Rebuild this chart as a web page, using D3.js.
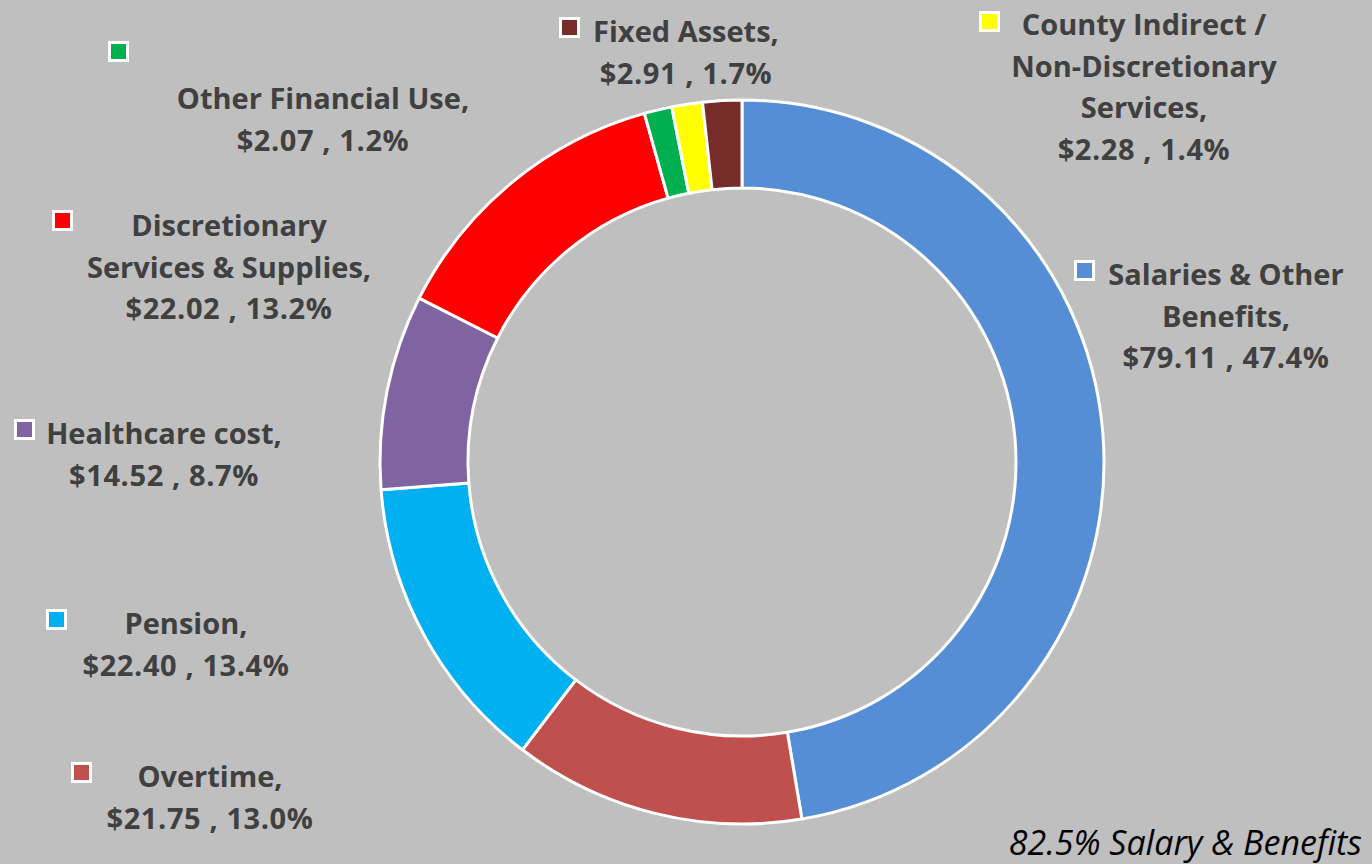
<!DOCTYPE html>
<html>
<head>
<meta charset="utf-8">
<script src="https://cdn.jsdelivr.net/npm/d3@7"></script>
<style>
  html, body { margin: 0; padding: 0; background: #bfbfbf; }
  svg { display: block; }
</style>
</head>
<body>
<script>
// ---- data ----
const categories = [
  "Salaries & Other Benefits",
  "Overtime",
  "Pension",
  "Healthcare cost",
  "Discretionary Services & Supplies",
  "Other Financial Use",
  "County Indirect / Non-Discretionary Services",
  "Fixed Assets"
];
const values = [79.11, 21.75, 22.40, 14.52, 22.02, 2.07, 2.28, 2.91];
const percentLabels = ["47.4%", "13.0%", "13.4%", "8.7%", "13.2%", "1.2%", "1.4%", "1.7%"];
const nameLines = [
  ["Salaries & Other", "Benefits,"],
  ["Overtime,"],
  ["Pension,"],
  ["Healthcare cost,"],
  ["Discretionary", "Services & Supplies,"],
  ["Other Financial Use,"],
  ["County Indirect /", "Non-Discretionary", "Services,"],
  ["Fixed Assets,"]
];
const colors = ["#558ed5", "#c0504d", "#00b0f0", "#8064a2", "#ff0000", "#00b050", "#ffff00", "#772c2a"];
const footnote = "82.5% Salary & Benefits";

// ---- layout ----
const W = 1372, H = 864;
const cx = 742, cy = 462, rOuter = 362, rInner = 274;
const labelLayout = [
  { x: 1226, y: 273, kx: 1074, ky: 260 },
  { x: 210,  y: 775, kx: 71,   ky: 762 },
  { x: 186,  y: 622, kx: 46,   ky: 609 },
  { x: 164,  y: 432, kx: 14,   ky: 419 },
  { x: 229,  y: 224, kx: 52,   ky: 210 },
  { x: 323,  y: 97,  kx: 108,  ky: 41 },
  { x: 1144, y: 23,  kx: 979,  ky: 11 },
  { x: 686,  y: 30,  kx: 559,  ky: 17 }
];
const lineH = 41.5;

const svg = d3.select("body").append("svg")
  .attr("width", W).attr("height", H);

svg.append("rect").attr("width", W).attr("height", H).attr("fill", "#bfbfbf");

const pie = d3.pie().sort(null).value(d => d.value).startAngle(0).endAngle(2 * Math.PI);
const arc = d3.arc().innerRadius(rInner).outerRadius(rOuter);
const data = categories.map((c, i) => ({ name: c, value: values[i], color: colors[i], i }));

svg.append("g").attr("transform", `translate(${cx},${cy})`)
  .selectAll("path").data(pie(data)).join("path")
  .attr("d", arc)
  .attr("fill", d => d.data.color)
  .attr("stroke", "#ffffff")
  .attr("stroke-width", 3)
  .attr("stroke-linejoin", "round");

const labels = svg.append("g")
  .attr("font-family", "'Open Sans', Lato, sans-serif")
  .attr("font-weight", "bold")
  .attr("font-size", 29)
  .attr("fill", "#404040");

data.forEach((d, i) => {
  const L = labelLayout[i];
  const lines = nameLines[i].concat([`$${values[i].toFixed(2)} , ${percentLabels[i]}`]);
  const t = labels.append("text")
    .attr("text-anchor", "middle")
    .attr("dominant-baseline", "central");
  lines.forEach((ln, j) => {
    t.append("tspan").attr("x", L.x).attr("y", L.y + j * lineH)
      .attr("letter-spacing", j === lines.length - 1 ? 0.6 : 0)
      .text(ln);
  });
  labels.append("rect")
    .attr("x", L.kx + 1.5).attr("y", L.ky + 1.5)
    .attr("width", 18).attr("height", 18)
    .attr("fill", d.color)
    .attr("stroke", "#ffffff").attr("stroke-width", 3);
});

svg.append("text")
  .attr("x", 1362).attr("y", 855)
  .attr("text-anchor", "end")
  .attr("font-family", "'Open Sans', Lato, sans-serif")
  .attr("font-style", "italic")
  .attr("font-size", 34)
  .attr("fill", "#000000")
  .text(footnote);
</script>
</body>
</html>
